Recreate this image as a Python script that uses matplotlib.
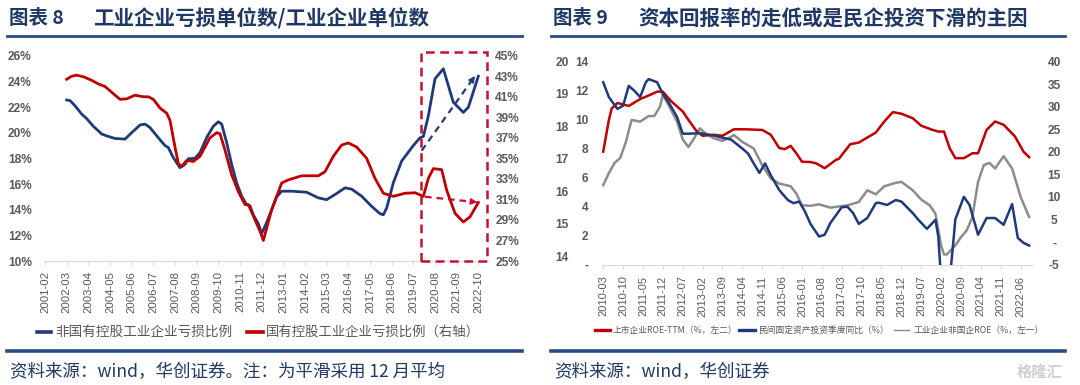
import matplotlib
matplotlib.use('Agg')
import matplotlib.pyplot as plt
from matplotlib.lines import Line2D
from matplotlib.patches import Rectangle

plt.rcParams['font.family'] = ['Liberation Sans', 'Noto Sans CJK SC', 'DejaVu Sans']
CJK = ['Noto Sans CJK SC', 'DejaVu Sans']

# ---------------- chart 8 data (12-month averages, %)
ticks8 = ['2001-02', '2002-03', '2003-04', '2004-05', '2005-06', '2006-07', '2007-08',
          '2008-09', '2009-10', '2010-11', '2011-12', '2013-01', '2014-02', '2015-03',
          '2016-04', '2017-05', '2018-06', '2019-07', '2020-08', '2021-09', '2022-10']

nonstate_dates = ['2002-03', '2002-05', '2002-08', '2002-12', '2003-03', '2003-07', '2003-12',
                  '2004-03', '2004-08', '2005-02', '2005-06', '2005-11', '2006-02', '2006-05',
                  '2006-10', '2007-02', '2007-04', '2007-07', '2007-11', '2008-02', '2008-04',
                  '2008-08', '2008-11', '2009-03', '2009-07', '2009-10', '2009-12', '2010-03',
                  '2010-06', '2010-09', '2010-12', '2011-03', '2011-05', '2011-07', '2011-10',
                  '2011-12', '2012-03', '2012-06', '2012-09', '2012-12', '2013-06', '2014-03',
                  '2014-10', '2015-03', '2015-08', '2016-02', '2016-06', '2016-12', '2017-06',
                  '2017-11', '2018-01', '2018-03', '2018-07', '2018-12', '2019-07', '2019-11',
                  '2020-01', '2020-04', '2020-08', '2021-01', '2021-04', '2021-07', '2022-01',
                  '2022-04', '2022-10']
nonstate_vals = [22.55, 22.5, 22.1, 21.45, 21.1, 20.5, 19.9,
                 19.75, 19.55, 19.5, 20.0, 20.6, 20.67, 20.4,
                 19.6, 19.0, 18.84, 18.05, 17.27, 17.53, 17.97,
                 18.0, 18.45, 19.62, 20.5, 20.85, 20.67, 19.23,
                 17.53, 16.09, 15.05, 14.39, 14.3, 13.6, 12.9,
                 12.15, 13.0, 14.0, 15.0, 15.44, 15.44, 15.36,
                 14.92, 14.78, 15.18, 15.7, 15.6, 15.05, 14.26,
                 13.69, 13.6, 14.13, 16.1, 17.79, 19.0, 19.6,
                 19.7, 21.3, 24.2, 24.98, 23.67, 22.37, 21.58,
                 21.98, 24.4]

state_dates = ['2002-03', '2002-06', '2002-09', '2003-01', '2003-06', '2003-10', '2004-02',
               '2004-07', '2004-11', '2005-03', '2005-08', '2006-01', '2006-04', '2006-07',
               '2006-11', '2007-03', '2007-05', '2007-08', '2007-10', '2007-12', '2008-03',
               '2008-07', '2008-11', '2009-05', '2009-09', '2009-11', '2010-02', '2010-06',
               '2010-10', '2011-02', '2011-04', '2011-08', '2011-11', '2012-01', '2012-06',
               '2012-12', '2013-04', '2013-12', '2014-10', '2015-02', '2015-07', '2015-12',
               '2016-04', '2016-09', '2017-03', '2017-08', '2018-01', '2018-07', '2019-02',
               '2019-08', '2020-01', '2020-04', '2020-07', '2020-12', '2021-03', '2021-08',
               '2022-01', '2022-05', '2022-10']
state_vals = [42.7, 43.0, 43.1, 42.95, 42.6, 42.25, 42.0,
              41.3, 40.75, 40.8, 41.15, 41.0, 41.0, 40.75,
              39.9, 39.4, 38.7, 36.1, 34.5, 34.2, 34.8,
              34.7, 35.2, 37.0, 37.5, 37.4, 35.8, 33.4,
              31.75, 30.5, 30.5, 29.0, 27.9, 27.0, 30.0,
              32.6, 32.9, 33.3, 33.3, 33.7, 35.2, 36.3,
              36.5, 36.1, 35.0, 33.05, 31.6, 31.3, 31.6,
              31.65, 31.3, 33.05, 34.0, 33.9, 31.9, 29.65,
              28.8, 29.3, 30.7]

# trend arrows (date, value)
blue_arrow = [('2019-12', 18.6), ('2022-09', 24.6)]
red_arrow = [('2020-02', 31.26), ('2022-11', 30.7)]

# ---------------- chart 9 data
ticks9 = ['2010-03', '2010-10', '2011-05', '2011-12', '2012-07', '2013-02', '2013-09',
          '2014-04', '2014-11', '2015-06', '2016-01', '2016-08', '2017-03', '2017-10',
          '2018-05', '2018-12', '2019-07', '2020-02', '2020-09', '2021-04', '2021-11',
          '2022-06']

roe_dates = ['2010-03', '2010-05', '2010-06', '2010-08', '2010-12', '2011-04', '2011-08',
             '2011-10', '2011-12', '2012-03', '2012-07', '2012-09', '2012-12', '2013-02',
             '2013-06', '2013-09', '2014-01', '2014-05', '2014-11', '2015-02', '2015-05',
             '2015-07', '2015-09', '2015-11', '2016-01', '2016-04', '2016-06', '2016-09',
             '2017-01', '2017-02', '2017-06', '2017-09', '2018-03', '2018-06', '2018-09',
             '2018-12', '2019-04', '2019-07', '2019-11', '2020-01', '2020-03', '2020-05',
             '2020-07', '2020-10', '2021-01', '2021-03', '2021-06', '2021-09', '2021-12',
             '2022-04', '2022-07', '2022-09']
roe_vals = [17.22, 18.2, 18.55, 18.72, 18.63, 18.84, 18.99,
            19.07, 19.07, 18.77, 18.46, 18.2, 17.84, 17.71,
            17.74, 17.71, 17.91, 17.91, 17.89, 17.74, 17.33,
            17.3, 17.4, 17.17, 16.91, 16.9, 16.86, 16.71,
            16.97, 17.0, 17.45, 17.5, 17.81, 18.15, 18.44,
            18.39, 18.25, 18.02, 17.89, 17.84, 17.84, 17.33,
            17.02, 17.02, 17.17, 17.17, 17.89, 18.15, 18.05,
            17.69, 17.22, 17.05]

fai_dates = ['2010-03', '2010-05', '2010-08', '2010-10', '2010-12', '2011-02', '2011-04',
             '2011-06', '2011-07', '2011-10', '2011-12', '2012-02', '2012-05', '2012-07',
             '2012-09', '2013-01', '2013-06', '2013-09', '2013-12', '2014-04', '2014-06',
             '2014-08', '2014-10', '2014-12', '2015-02', '2015-05', '2015-08', '2015-10',
             '2015-12', '2016-02', '2016-04', '2016-07', '2016-09', '2016-11', '2017-03',
             '2017-05', '2017-07', '2017-09', '2017-12', '2018-03', '2018-04', '2018-07',
             '2018-10', '2018-12', '2019-04', '2019-06', '2019-09', '2019-12', '2020-01',
             '2020-02', '2020-03', '2020-04', '2020-05', '2020-06', '2020-07', '2020-10',
             '2020-12', '2021-03', '2021-06', '2021-09', '2021-12', '2022-03', '2022-05',
             '2022-07', '2022-09']
fai_vals = [35.4, 32.1, 29.5, 30.2, 34.6, 33.5, 32.1,
            35.4, 36.1, 35.4, 32.8, 31.0, 27.7, 24.0,
            24.0, 24.1, 23.6, 23.1, 22.7, 20.7, 19.6,
            17.4, 15.3, 17.4, 14.8, 11.5, 9.3, 8.6,
            8.95, 6.8, 4.0, 1.2, 1.6, 4.2, 7.7,
            7.8, 6.4, 4.0, 5.3, 8.6, 8.7, 8.2,
            9.3, 8.95, 6.4, 4.9, 2.9, 4.9, 1.2,
            -8.5, -16.0, -15.0, -8.5, -2.0, 5.0, 10.0,
            8.2, 1.6, 5.3, 5.3, 3.8, 8.4, 0.9,
            -0.2, -0.8]

ind_dates = ['2010-03', '2010-05', '2010-07', '2010-09', '2010-11', '2011-01', '2011-04',
             '2011-07', '2011-09', '2011-11', '2011-12', '2012-02', '2012-05', '2012-07',
             '2012-09', '2012-11', '2013-01', '2013-03', '2013-06', '2013-09', '2013-12',
             '2014-01', '2014-04', '2014-08', '2014-11', '2015-02', '2015-05', '2015-09',
             '2015-11', '2016-01', '2016-04', '2016-07', '2016-11', '2017-05', '2017-09',
             '2017-12', '2018-03', '2018-06', '2018-10', '2018-12', '2019-04', '2019-07',
             '2019-10', '2019-12', '2020-02', '2020-03', '2020-04', '2020-07', '2020-09',
             '2020-11', '2021-01', '2021-03', '2021-05', '2021-07', '2021-09', '2021-12',
             '2022-03', '2022-06', '2022-09']
ind_vals = [5.47, 6.3, 7.0, 7.35, 8.46, 9.97, 9.85,
            10.24, 10.24, 10.89, 11.7, 11.0, 9.85, 8.63,
            8.1, 8.7, 9.39, 9.04, 8.7, 8.53, 8.8,
            8.93, 8.46, 8.0, 6.85, 5.93, 5.58, 5.4,
            4.89, 4.08, 4.05, 4.15, 3.92, 4.08, 4.31,
            5.12, 4.84, 5.4, 5.63, 5.7, 5.12, 4.48,
            4.08, 3.5, 1.3, 0.69, 0.69, 1.31, 1.89,
            2.35, 3.27, 5.7, 6.85, 7.01, 6.62, 7.47,
            6.62, 4.66, 3.27]

NAVY = '#1F3A7A'
RED = '#C00000'
GRAY_LINE = '#8C8C8C'
TXT = '#595959'
TITLE = '#1F3864'
RULE = '#2A4A8A'
AXIS = '#D9D9D9'


def midx(s, base):
    y, m = map(int, s.split('-'))
    by, bm = map(int, base.split('-'))
    return (y - by) * 12 + (m - bm)


W, H = 1080, 385
fig = plt.figure(figsize=(W / 100, H / 100), dpi=100)


def fx(px):
    return px / W


def fy(py):
    return 1 - py / H


def frame(x0, x1, label, title_x, title, source):
    fig.text(fx(x0 + 2), fy(19), label, family=CJK, fontsize=14, fontweight='bold',
             color=TITLE, va='center', ha='left')
    fig.text(fx(title_x), fy(19), title, family=CJK, fontsize=14.8, fontweight='bold',
             color=TITLE, va='center', ha='left')
    fig.add_artist(Line2D([fx(x0), fx(x1)], [fy(36), fy(36)], color=RULE, lw=2.0))
    fig.add_artist(Line2D([fx(x0), fx(x1)], [fy(351), fy(351)], color=RULE, lw=2.6))
    fig.text(fx(x0 + 3), fy(372), source, family=CJK, fontsize=12.6, style='italic',
             color=TITLE, va='center', ha='left')


def style_x(ax):
    for s in ['top', 'left', 'right']:
        ax.spines[s].set_visible(False)
    ax.spines['bottom'].set_color(AXIS)
    ax.tick_params(axis='x', length=3, color=AXIS, pad=4, labelsize=8.2,
                   labelcolor=TXT, rotation=90)


# ================= chart 8
base8 = '2001-02'
ax = fig.add_axes([fx(45), fy(261), fx(487) - fx(45), fy(55.7) - fy(261)])
ax.plot([midx(d, base8) for d in nonstate_dates], nonstate_vals, color=NAVY, lw=2.0,
        solid_joinstyle='round')
ax.set_xlim(0, 265.2)
ax.set_ylim(10, 26)
ax.set_yticks(range(10, 27, 2))
ax.set_yticklabels(['%d%%' % v for v in range(10, 27, 2)])
ax.set_xticks([midx(t, base8) for t in ticks8])
ax.set_xticklabels(ticks8)
style_x(ax)
ax.tick_params(axis='y', length=0, pad=9.5, labelsize=8.6, labelcolor=TXT)
for lb in ax.get_yticklabels():
    lb.set_fontweight('bold')

axr = ax.twinx()
axr.plot([midx(d, base8) for d in state_dates], state_vals, color=RED, lw=2.0,
         solid_joinstyle='round')
axr.set_ylim(25, 45)
axr.set_yticks(range(25, 46, 2))
axr.set_yticklabels(['%d%%' % v for v in range(25, 46, 2)])
for s in axr.spines.values():
    s.set_visible(False)
axr.tick_params(axis='y', length=0, pad=6, labelsize=8.6, labelcolor=TXT)
for lb in axr.get_yticklabels():
    lb.set_fontweight('bold')

# highlight box + trend arrows
box_left = midx('2019-07', base8) + 4.8
axr.add_patch(Rectangle((box_left, 0.0), 265.2 - box_left, 1.02,
                        transform=axr.get_xaxis_transform(), fill=False,
                        edgecolor='#C8102E', lw=1.8, ls=(0, (3.5, 2.2)), clip_on=False))
(b0d, b0v), (b1d, b1v) = blue_arrow
bx0, bx1 = midx(b0d, base8), midx(b1d, base8)
ax.plot([bx0, bx1 - 2.5], [b0v, b1v - 0.45], color=NAVY, lw=1.6, ls=(0, (3, 2.2)))
ax.annotate('', xy=(bx1, b1v), xytext=(bx1 - 3, b1v - 0.55),
            arrowprops=dict(arrowstyle='-|>', color=NAVY, lw=1.2, mutation_scale=9))
(r0d, r0v), (r1d, r1v) = red_arrow
rx0, rx1 = midx(r0d, base8), midx(r1d, base8)
axr.plot([rx0, rx1 - 3], [r0v, r1v + 0.05], color='#C8102E', lw=1.6, ls=(0, (3, 2.2)))
axr.annotate('', xy=(rx1, r1v), xytext=(rx1 - 3.5, r1v + 0.06),
             arrowprops=dict(arrowstyle='-|>', color='#C8102E', lw=1.2, mutation_scale=9))

# legend chart 8
fig.add_artist(Line2D([fx(37), fx(51)], [fy(332), fy(332)], color=NAVY, lw=2.6))
fig.text(fx(55), fy(332), '非国有控股工业企业亏损比例', family=CJK, fontsize=9.8,
         color=TXT, va='center')
fig.add_artist(Line2D([fx(247), fx(263)], [fy(332), fy(332)], color=RED, lw=2.6))
fig.text(fx(266), fy(332), '国有控股工业企业亏损比例（右轴）', family=CJK, fontsize=9.6,
         color=TXT, va='center')

frame(7, 522, '图表 8', 93, '工业企业亏损单位数/工业企业单位数',
      '资料来源：wind，华创证券。注：为平滑采用 12 月平均')

# ================= chart 9
base9 = '2010-03'
ax9 = fig.add_axes([fx(601.5), fy(264.5), fx(1032) - fx(601.5), fy(61.5) - fy(264.5)])
ax9.plot([midx(d, base9) for d in ind_dates], ind_vals, color=GRAY_LINE, lw=1.8,
         solid_joinstyle='round')
ax9.set_xlim(-0.6, 151)
ax9.set_ylim(0, 14)
ax9.set_yticks(range(0, 15, 2))
ax9.set_yticklabels(['-' if v == 0 else str(v) for v in range(0, 15, 2)])
ax9.set_xticks([midx(t, base9) for t in ticks9])
ax9.set_xticklabels(ticks9)
style_x(ax9)
ax9.tick_params(axis='x', pad=5, labelsize=8.0)
ax9.tick_params(axis='y', length=0, pad=9.5, labelsize=8.6, labelcolor=TXT)
for lb in ax9.get_yticklabels():
    lb.set_fontweight('bold')

ax9o = ax9.twinx()
ax9o.plot([midx(d, base9) for d in roe_dates], roe_vals, color=RED, lw=1.8,
          solid_joinstyle='round')
ax9o.set_ylim(20 - (264.5 - 61.7) / 32.4, 20)
ax9o.set_yticks(range(14, 21))
ax9o.yaxis.set_ticks_position('left')
ax9o.yaxis.set_label_position('left')
for s in ax9o.spines.values():
    s.set_visible(False)
ax9o.tick_params(axis='y', length=0, pad=23.5, labelsize=8.6, labelcolor=TXT)
for lb in ax9o.get_yticklabels():
    lb.set_fontweight('bold')

ax9r = ax9.twinx()
ax9r.plot([midx(d, base9) for d in fai_dates], fai_vals, color=NAVY, lw=1.8,
          solid_joinstyle='round')
ax9r.set_ylim(-5, 40)
ax9r.set_yticks(range(-5, 41, 5))
ax9r.set_yticklabels(['-' if v == 0 else str(v) for v in range(-5, 41, 5)])
for s in ax9r.spines.values():
    s.set_visible(False)
ax9r.tick_params(axis='y', length=0, pad=16, labelsize=8.6, labelcolor=TXT)
for lb in ax9r.get_yticklabels():
    lb.set_fontweight('bold')
    lb.set_horizontalalignment('center')

# legend chart 9
fig.add_artist(Line2D([fx(595), fx(610)], [fy(330), fy(330)], color=RED, lw=2.4))
fig.text(fx(613), fy(330), '上市企业ROE-TTM（%，左二）', family=CJK, fontsize=6.3,
         color=TXT, va='center')
fig.add_artist(Line2D([fx(739), fx(755)], [fy(330), fy(330)], color=NAVY, lw=2.4))
fig.text(fx(758), fy(330), '民间固定资产投资季度同比（%）', family=CJK, fontsize=6.3,
         color=TXT, va='center')
fig.add_artist(Line2D([fx(894), fx(909)], [fy(330), fy(330)], color=GRAY_LINE, lw=1.0))
fig.text(fx(913), fy(330), '工业企业非国企ROE（%，左一）', family=CJK, fontsize=6.3,
         color=TXT, va='center')

frame(551, 1065, '图表 9', 638, '资本回报率的走低或是民企投资下滑的主因',
      '资料来源：wind，华创证券')
fig.text(fx(1040), fy(372), '格隆汇', family=CJK, fontsize=11, color='#CFCFCF',
         va='center', ha='center', fontweight='bold')

fig.savefig('out.png', dpi=100)
